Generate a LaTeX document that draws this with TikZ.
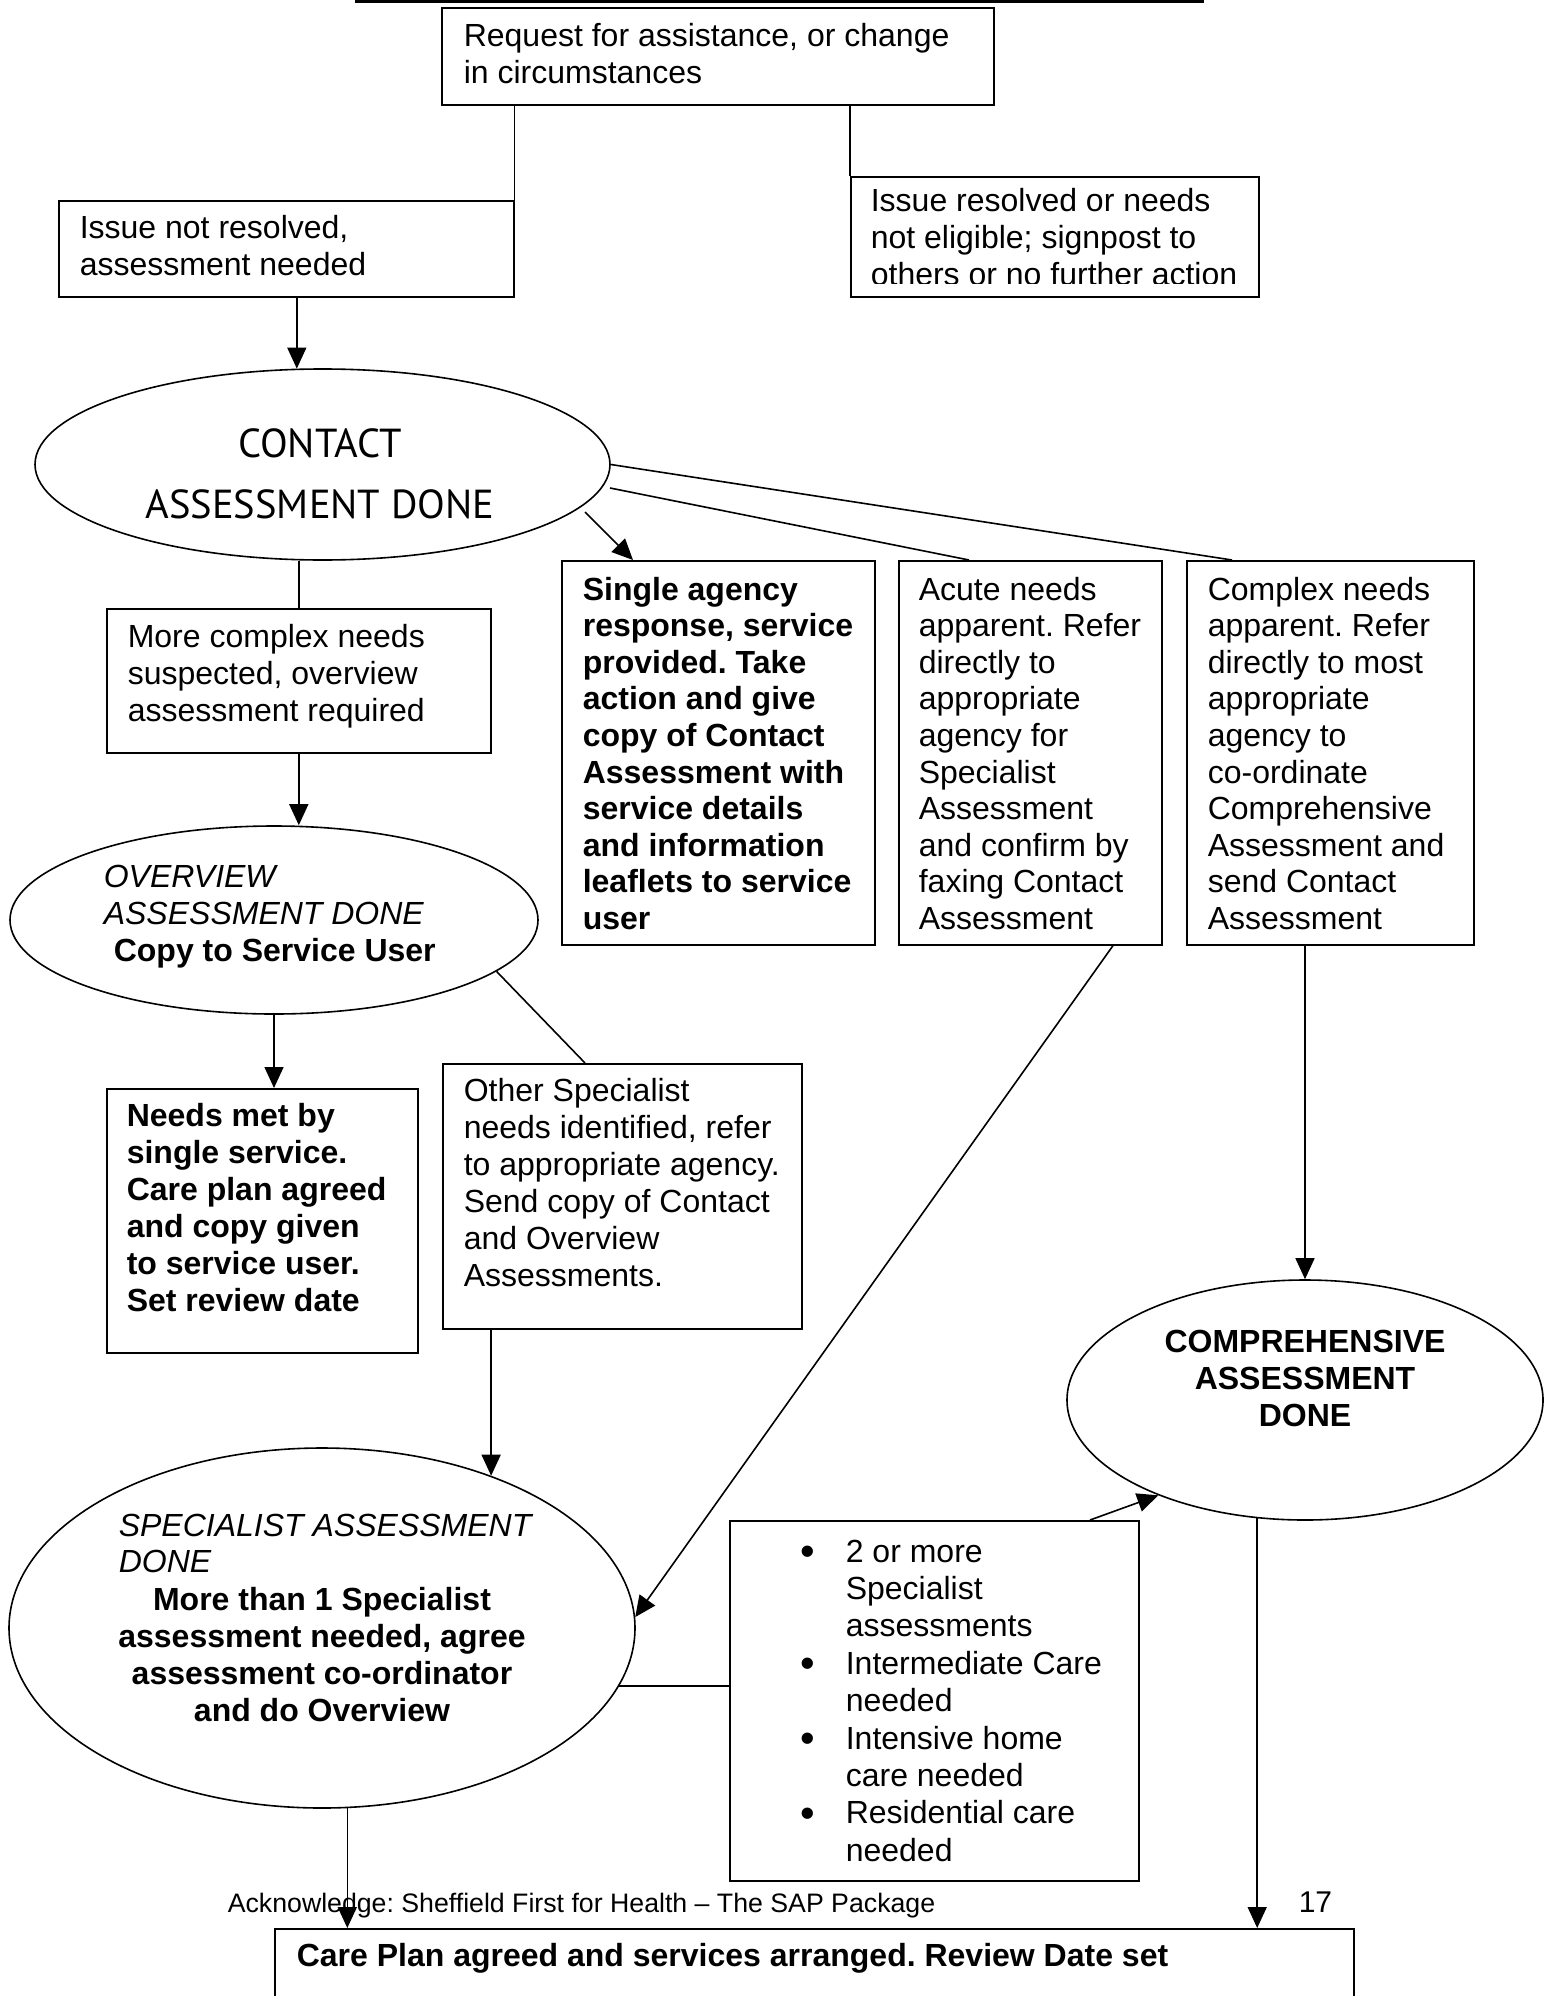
\documentclass[tikz,border=0pt]{standalone}
\usepackage{fontspec}
\setmainfont{Liberation Sans}
\newfontfamily\gillfont{PT Sans}
\usetikzlibrary{shapes.geometric,arrows.meta,calc}
\frenchspacing
\newcommand{\bulmark}{\llap{\raisebox{-3.5pt}{\scalebox{1.3}{•}}\hspace{31pt}}}
\begin{document}
\begin{tikzpicture}[x=1pt,y=-1pt,
  line width=1.6pt,
  box/.style={draw, rectangle, inner sep=0pt, anchor=north west},
  oval/.style={draw, ellipse, inner sep=0pt},
  txt/.style={anchor=base west, inner sep=0pt, align=left, font=\fontsize{32}{37}\selectfont},
  txtb/.style={txt, font=\fontsize{32}{37}\selectfont\bfseries},
  ctxt/.style={anchor=base, inner sep=0pt, align=center, font=\fontsize{32}{37}\selectfont\bfseries},
  arr/.style={-{Triangle[length=21pt,width=19pt]}},
]
\useasboundingbox (0,0) rectangle (1545,1996);
% (text nodes are placed by the baseline of their LAST line)

% header rule
\coordinate (barL) at (355,1.5);
\coordinate (barR) at (1204,1.5);
\draw[line width=3pt] (barL) -- (barR);

% request
\node[box, minimum width=552, minimum height=97] (req) at (441,7) {};
\node[txt] (reqT) at (463,84) {Request for assistance, or change\\in circumstances};

\node[box, minimum width=455, minimum height=96] (notres) at (58,200) {};
\node[txt] (notresT) at (79,275) {Issue not resolved,\\assessment needed};

\node[box, minimum width=408, minimum height=120] (res) at (850,176) {};
\begin{scope}
\clip (res.north west) rectangle ($(res.north east)+(0,107)$);
\node[txt] (resT) at (870,285) {Issue resolved or needs\\not eligible; signpost to\\others or no further action};
\end{scope}

\draw (notres.north east |- req.south) -- (notres.north east);
\draw (res.north west |- req.south) -- (res.north west);

% contact
\node[oval, minimum width=575, minimum height=191] (contact) at (322.5,464.5) {};
\node[anchor=base, align=center, inner sep=0pt, font=\gillfont\fontsize{40.5}{61}\selectfont] (contactT) at (320,518) {CONTACT\\ASSESSMENT DONE};
\draw[arr] (notres.south -| contact.105) -- (contact.105);

% more complex
\node[box, minimum width=384, minimum height=144] (more) at (106,608) {};
\node[txt] (moreT) at (127,721) {More complex needs\\suspected, overview\\assessment required};
\draw (more.north |- contact.south) -- (more.north);

% overview
\node[oval, minimum width=528, minimum height=188] (overview) at (274,920) {};
\node[txt] (overviewT) at (103,961) {{\itshape OVERVIEW}\\{\itshape ASSESSMENT DONE}\\\hspace*{10pt}{\bfseries Copy to Service User}};
\draw[arr] (more.south) -- (more.south |- overview.north);

% three boxes
\node[box, minimum width=313, minimum height=384] (single) at (561,560) {};
\node[box, minimum width=263, minimum height=384] (acute) at (898,560) {};
\node[box, minimum width=287, minimum height=384] (complex) at (1186,560) {};
\node[txtb, font=\fontsize{32}{36.6}\selectfont\bfseries] (singleT) at (582,929.4) {Single agency\\response, service\\provided. Take\\action and give\\copy of Contact\\Assessment with\\service details\\and information\\leaflets to service\\user};
\node[txt, font=\fontsize{32}{36.6}\selectfont] (acuteT) at (918,929.4) {Acute needs\\apparent. Refer\\directly to\\appropriate\\agency for\\Specialist\\Assessment\\and confirm by\\faxing Contact\\Assessment};
\node[txt, font=\fontsize{32}{36.6}\selectfont] (complexT) at (1207,929.4) {Complex needs\\apparent. Refer\\directly to most\\appropriate\\agency to\\co-ordinate\\Comprehensive\\Assessment and\\send Contact\\Assessment};

\draw[arr] ($(contact.center)+(262.5,47.5)$) -- ($(single.north west)+(72,0)$);
\draw (contact.east) -- ($(complex.north west)+(46,0)$);
\draw ($(contact.center)+(287.5,23.5)$) -- ($(acute.north west)+(71,0)$);

% needs met
\node[box, minimum width=311, minimum height=264] (needs) at (106,1088) {};
\node[txtb] (needsT) at (126,1311) {Needs met by\\single service.\\Care plan agreed\\and copy given\\to service user.\\Set review date};
\draw[arr] (overview.south) -- (overview.south |- needs.north);

% other specialist
\node[box, minimum width=359, minimum height=265] (other) at (442,1063) {};
\node[txt] (otherT) at (463,1286) {Other Specialist\\needs identified, refer\\to appropriate agency.\\Send copy of Contact\\and Overview\\Assessments.};
\draw (overview.-13.3) -- ($(other.north west)+(143,0)$);

% specialist
\node[oval, minimum width=626, minimum height=360] (spec) at (322,1628) {};
\node[txt, font=\fontsize{32}{36}\selectfont\itshape] (specI) at (118,1572) {SPECIALIST ASSESSMENT\\DONE};
\node[ctxt] (specB) at (322,1721) {More than 1 Specialist\\assessment needed, agree\\assessment co-ordinator\\and do Overview};
\draw[arr] (spec.42.3 |- other.south) -- (spec.42.3);
\draw[arr] ($(acute.south west)+(215,0)$) -- (spec.2.4);

% comprehensive
\node[oval, minimum width=476, minimum height=240] (comp) at (1305,1400) {};
\node[ctxt] (compT) at (1305,1426) {COMPREHENSIVE\\ASSESSMENT\\DONE};
\draw[arr] (comp.north |- complex.south) -- (comp.north);

% bullets
\node[box, minimum width=409, minimum height=360] (bul) at (729,1520) {};
\node[txt, font=\fontsize{32}{37.4}\selectfont] (bulT) at (845,1861.2) {\bulmark 2 or more\\Specialist\\assessments\\\bulmark Intermediate Care\\needed\\\bulmark Intensive home\\care needed\\\bulmark Residential care\\needed};
\draw[arr] ($(bul.north west)+(361,0)$) -- (comp.213.2);
\draw (spec.-11.5) -- (spec.-11.5 -| bul.west);

% care plan
\node[box, minimum width=1079, minimum height=100] (care) at (274,1928) {};
\node[txtb] (careT) at (296,1966) {Care Plan agreed and services arranged. Review Date set};
\draw[arr] (spec.-82.7) -- (spec.-82.7 |- care.north);
\draw[arr] (comp.248.2) -- (comp.248.2 |- care.north);

% footer
\node[txt, font=\fontsize{26.7}{30}\selectfont] (foot) at (227,1912) {Acknowledge: Sheffield First for Health – The SAP Package};
\node[txt, font=\fontsize{30}{34}\selectfont] (pageno) at (1298,1912) {17};
\end{tikzpicture}
\end{document}
